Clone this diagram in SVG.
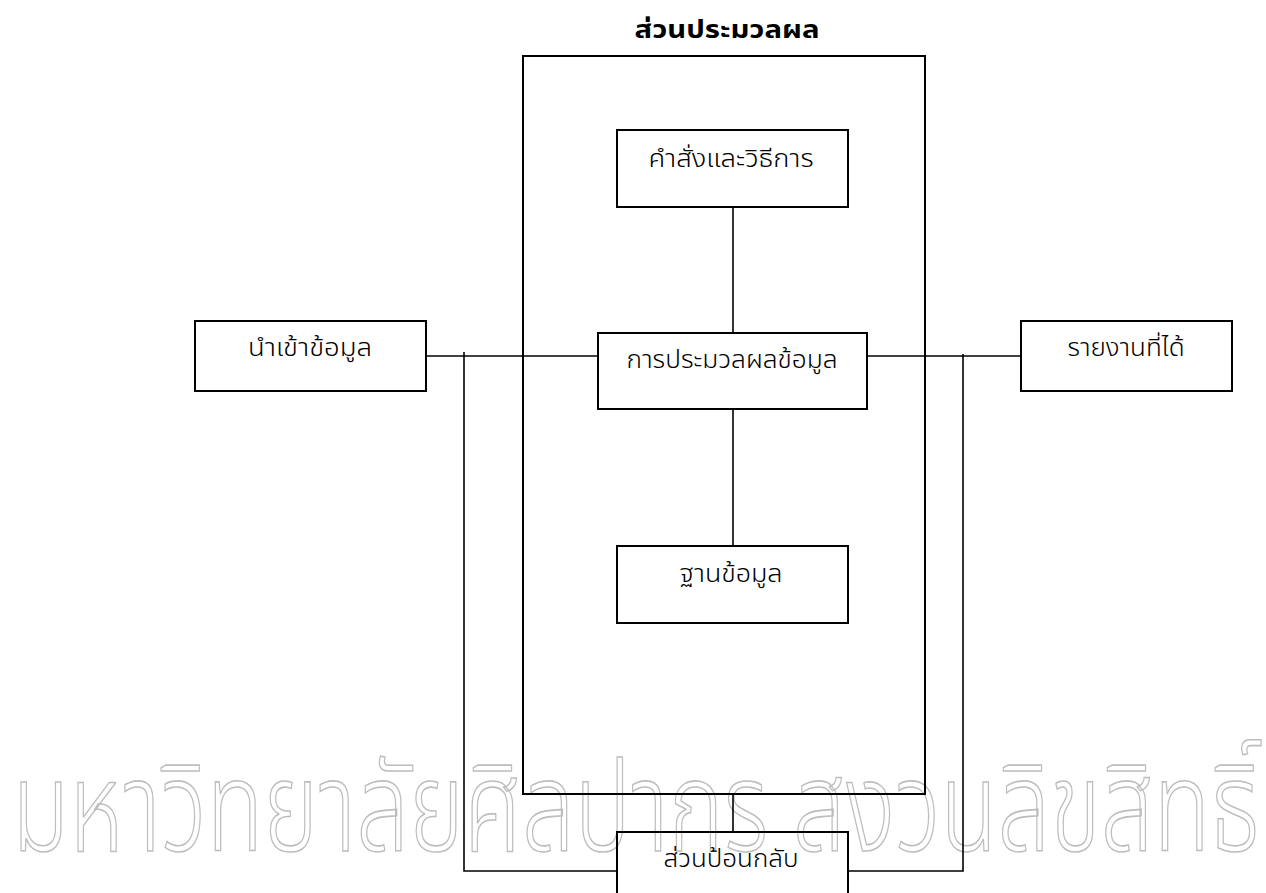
<svg xmlns="http://www.w3.org/2000/svg" width="1266" height="893" viewBox="0 0 1266 893">
<style>
.box{fill:none;stroke:#000;stroke-width:2}
.ln{fill:none;stroke:#000;stroke-width:1.6}
.t{font-family:"Noto Sans Thai","Liberation Sans",sans-serif;font-size:24px;font-weight:300;fill:#000;text-anchor:middle}
.title{font-family:"Noto Sans Thai","Liberation Sans",sans-serif;font-size:25px;font-weight:bold;fill:#000;text-anchor:middle}
.wm{font-family:"Noto Sans Thai","Liberation Sans",sans-serif;font-size:126px;font-weight:300;fill:none;stroke:#bdbdbd;stroke-width:1.6}
</style>
<rect width="1266" height="893" fill="#fff"/>
<g id="watermark">
<text class="wm" x="12" y="851" textLength="1248" lengthAdjust="spacingAndGlyphs">มหาวิทยาลัยศิลปากร สงวนลิขสิทธิ์</text>
</g>
<g id="title"><text class="title" x="727" y="38" textLength="185" lengthAdjust="spacingAndGlyphs">ส่วนประมวลผล</text></g>
<g id="processing-area"><rect class="box" x="523" y="56" width="402" height="738"/></g>
<g id="connectors">
<line class="ln" x1="733" y1="207" x2="733" y2="333"/>
<line class="ln" x1="733" y1="409" x2="733" y2="546"/>
<line class="ln" x1="426" y1="356" x2="598" y2="356"/>
<line class="ln" x1="867" y1="356" x2="1021" y2="356"/>
<polyline class="ln" points="464,352 464,871 617,871"/>
<polyline class="ln" points="963,354 963,871 848,871"/>
<line class="ln" x1="733" y1="794" x2="733" y2="832"/>
</g>
<g id="instructions"><rect class="box" x="617" y="130" width="231" height="77"/><text class="t" x="731" y="167" textLength="165" lengthAdjust="spacingAndGlyphs">คำสั่งและวิธีการ</text></g>
<g id="input"><rect class="box" x="195" y="321" width="231" height="70"/><text class="t" x="310" y="356" textLength="124" lengthAdjust="spacingAndGlyphs">นำเข้าข้อมูล</text></g>
<g id="processing"><rect class="box" x="598" y="333" width="269" height="76"/><text class="t" x="732" y="368" textLength="211" lengthAdjust="spacingAndGlyphs">การประมวลผลข้อมูล</text></g>
<g id="output"><rect class="box" x="1021" y="321" width="211" height="70"/><text class="t" x="1126" y="356" textLength="117" lengthAdjust="spacingAndGlyphs">รายงานที่ได้</text></g>
<g id="database"><rect class="box" x="617" y="546" width="231" height="77"/><text class="t" x="731" y="582" textLength="103" lengthAdjust="spacingAndGlyphs">ฐานข้อมูล</text></g>
<g id="feedback"><rect class="box" x="617" y="832" width="231" height="80"/><text class="t" x="731" y="867" textLength="135" lengthAdjust="spacingAndGlyphs">ส่วนป้อนกลับ</text></g>
</svg>
